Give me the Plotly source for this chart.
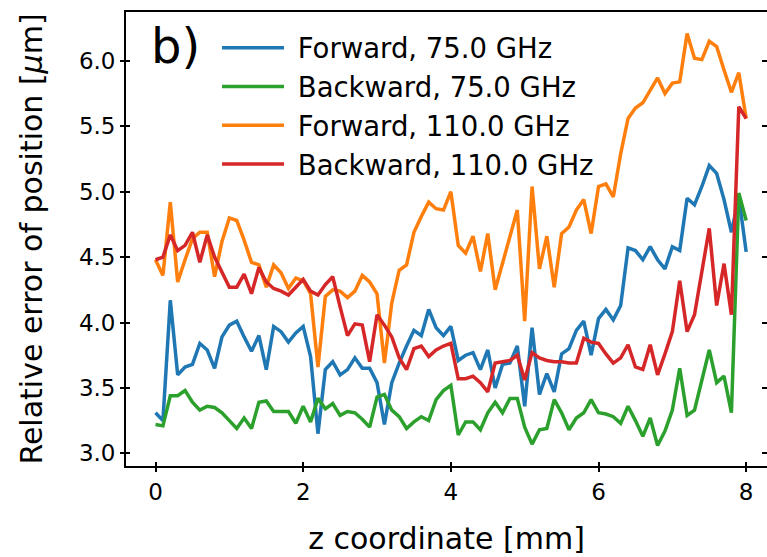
import plotly.graph_objects as go

z_mm = [0.0, 0.1, 0.2, 0.3, 0.4, 0.5, 0.6, 0.7, 0.8, 0.9,
        1.0, 1.1, 1.2, 1.3, 1.4, 1.5, 1.6, 1.7, 1.8, 1.9,
        2.0, 2.1, 2.2, 2.3, 2.4, 2.5, 2.6, 2.7, 2.8, 2.9,
        3.0, 3.1, 3.2, 3.3, 3.4, 3.5, 3.6, 3.7, 3.8, 3.9,
        4.0, 4.1, 4.2, 4.3, 4.4, 4.5, 4.6, 4.7, 4.8, 4.9,
        5.0, 5.1, 5.2, 5.3, 5.4, 5.5, 5.6, 5.7, 5.8, 5.9,
        6.0, 6.1, 6.2, 6.3, 6.4, 6.5, 6.6, 6.7, 6.8, 6.9,
        7.0, 7.1, 7.2, 7.3, 7.4, 7.5, 7.6, 7.7, 7.8, 7.9, 8.0]

forward_75 = [3.31, 3.25, 4.17, 3.60, 3.66, 3.68, 3.84, 3.79, 3.65, 3.89,
              3.98, 4.01, 3.89, 3.78, 3.90, 3.64, 3.97, 3.93, 3.85, 3.92,
              3.97, 3.74, 3.15, 3.64, 3.70, 3.60, 3.64, 3.73, 3.65, 3.65,
              3.54, 3.22, 3.54, 3.69, 3.82, 3.94, 3.90, 4.10, 3.96, 3.90,
              3.97, 3.71, 3.75, 3.77, 3.64, 3.79, 3.50, 3.68, 3.69, 3.82,
              3.36, 3.96, 3.45, 3.61, 3.47, 3.76, 3.80, 3.94, 4.01, 3.75,
              4.03, 4.10, 4.02, 4.13, 4.57, 4.55, 4.48, 4.58, 4.48, 4.41,
              4.58, 4.55, 4.95, 4.90, 5.04, 5.20, 5.14, 4.94, 4.69, 4.96, 4.54]

backward_75 = [3.22, 3.21, 3.44, 3.44, 3.48, 3.39, 3.33, 3.36, 3.35, 3.31,
               3.25, 3.19, 3.27, 3.19, 3.39, 3.40, 3.32, 3.32, 3.32, 3.23,
               3.36, 3.24, 3.42, 3.34, 3.38, 3.29, 3.32, 3.31, 3.26, 3.20,
               3.43, 3.45, 3.33, 3.28, 3.19, 3.24, 3.28, 3.25, 3.41, 3.48,
               3.52, 3.14, 3.24, 3.24, 3.18, 3.31, 3.39, 3.31, 3.42, 3.42,
               3.20, 3.07, 3.18, 3.19, 3.41, 3.31, 3.18, 3.27, 3.31, 3.41,
               3.31, 3.30, 3.28, 3.23, 3.36, 3.25, 3.13, 3.27, 3.06, 3.17,
               3.33, 3.65, 3.29, 3.33, 3.55, 3.79, 3.54, 3.59, 3.31, 4.99, 4.78]

forward_110 = [4.48, 4.36, 4.92, 4.31, 4.48, 4.64, 4.69, 4.69, 4.35, 4.62,
               4.80, 4.78, 4.63, 4.46, 4.44, 4.27, 4.44, 4.38, 4.26, 4.34,
               4.32, 4.22, 3.66, 4.20, 4.25, 4.24, 4.19, 4.24, 4.36, 4.31,
               4.22, 3.69, 4.15, 4.40, 4.44, 4.69, 4.81, 4.92, 4.87, 4.86,
               5.00, 4.59, 4.53, 4.66, 4.39, 4.68, 4.25, 4.45, 4.66, 4.86,
               4.01, 5.04, 4.41, 4.66, 4.27, 4.68, 4.73, 4.86, 4.94, 4.68,
               5.04, 5.06, 4.96, 5.29, 5.56, 5.64, 5.68, 5.78, 5.87, 5.75,
               5.83, 5.84, 6.21, 6.02, 6.01, 6.15, 6.11, 5.93, 5.76, 5.91, 5.56]

backward_110 = [4.48, 4.50, 4.67, 4.55, 4.59, 4.69, 4.46, 4.67, 4.50, 4.39,
                4.27, 4.27, 4.37, 4.22, 4.42, 4.31, 4.26, 4.24, 4.21, 4.27,
                4.33, 4.24, 4.21, 4.29, 4.35, 4.12, 3.90, 3.99, 3.98, 3.70,
                4.06, 3.98, 3.89, 3.73, 3.64, 3.80, 3.82, 3.74, 3.79, 3.82,
                3.84, 3.57, 3.57, 3.59, 3.54, 3.47, 3.69, 3.70, 3.71, 3.75,
                3.56, 3.77, 3.73, 3.71, 3.70, 3.70, 3.69, 3.69, 3.88, 3.85,
                3.84, 3.76, 3.69, 3.73, 3.83, 3.66, 3.64, 3.83, 3.60, 3.76,
                3.93, 4.32, 3.93, 4.06, 4.39, 4.72, 4.13, 4.45, 4.06, 5.65, 5.56]

series_names = ["Forward, 75.0 GHz", "Backward, 75.0 GHz",
                "Forward, 110.0 GHz", "Backward, 110.0 GHz"]
series_values = [forward_75, backward_75, forward_110, backward_110]
series_colors = ["#1f77b4", "#2ca02c", "#ff7f0e", "#d62728"]

x_ticks = [0, 2, 4, 6, 8]
y_ticks = [3.0, 3.5, 4.0, 4.5, 5.0, 5.5, 6.0]
x_range = [-0.4, 8.282]
y_range = [2.903, 6.374]

FONT = "DejaVu Sans"
TICK_HALF = 4

fig = go.Figure()
for i, (name, vals, col) in enumerate(zip(series_names, series_values, series_colors)):
    fig.add_trace(go.Scatter(x=z_mm, y=vals, mode="lines", name=" " + name,
                             legendgroup=f"g{i}",
                             line=dict(color=col, width=3.5)))

# helper axes: inner half of the "inout" ticks and the tick stubs at the right edge
fig.add_trace(go.Scatter(x=[], y=[], xaxis="x2", yaxis="y3", showlegend=False, hoverinfo="skip"))
fig.add_trace(go.Scatter(x=[], y=[], yaxis="y2", showlegend=False, hoverinfo="skip"))

fig.update_layout(
    width=767, height=557,
    margin=dict(l=126, r=0, t=12, b=91),
    paper_bgcolor="white", plot_bgcolor="white",
    font=dict(family=FONT, color="black", size=23),
    showlegend=True,
    legend=dict(x=0.142, y=0.975, xanchor="left", yanchor="top",
                bgcolor="rgba(0,0,0,0)", borderwidth=0,
                font=dict(family=FONT, size=27.5, color="black"),
                itemwidth=62, tracegroupgap=0, traceorder="grouped"),
    xaxis=dict(range=x_range, tickvals=x_ticks, ticks="outside",
               ticklen=TICK_HALF, tickwidth=1.6, tickcolor="black",
               showline=True, linewidth=1.8, linecolor="black", mirror=True,
               showgrid=False, zeroline=False,
               tickfont=dict(family=FONT, size=23, color="black"),
               title=dict(text="z coordinate [mm]", standoff=24,
                          font=dict(family=FONT, size=30, color="black"))),
    yaxis=dict(range=y_range, tickvals=y_ticks, tickformat=".1f",
               ticks="outside", ticklen=TICK_HALF, tickwidth=1.6, tickcolor="black",
               showline=True, linewidth=1.8, linecolor="black", mirror=False,
               showgrid=False, zeroline=False,
               tickfont=dict(family=FONT, size=23, color="black"),
               title=dict(text="Relative error of position [<i>μ</i>m]", standoff=27,
                          font=dict(family=FONT, size=30, color="black"))),
    xaxis2=dict(range=x_range, tickvals=x_ticks, overlaying="x", anchor="y3",
                side="bottom", ticks="inside", ticklen=TICK_HALF, tickwidth=1.6,
                tickcolor="black", showticklabels=False, showline=False,
                showgrid=False, zeroline=False),
    yaxis3=dict(range=y_range, tickvals=y_ticks, overlaying="y", anchor="x2",
                side="left", ticks="inside", ticklen=TICK_HALF, tickwidth=1.6,
                tickcolor="black", showticklabels=False, showline=False,
                showgrid=False, zeroline=False),
    yaxis2=dict(range=y_range, tickvals=y_ticks, overlaying="y",
                side="right", anchor="free", position=1.0,
                ticks="inside", ticklen=5, tickwidth=1.6, tickcolor="black",
                showticklabels=False, showline=False, showgrid=False, zeroline=False),
    annotations=[dict(text="b)", xref="paper", yref="paper", x=0.036, y=0.925,
                      xanchor="left", yanchor="middle", showarrow=False,
                      font=dict(family=FONT, size=48, color="black"))],
)

fig.write_html("out.html")
